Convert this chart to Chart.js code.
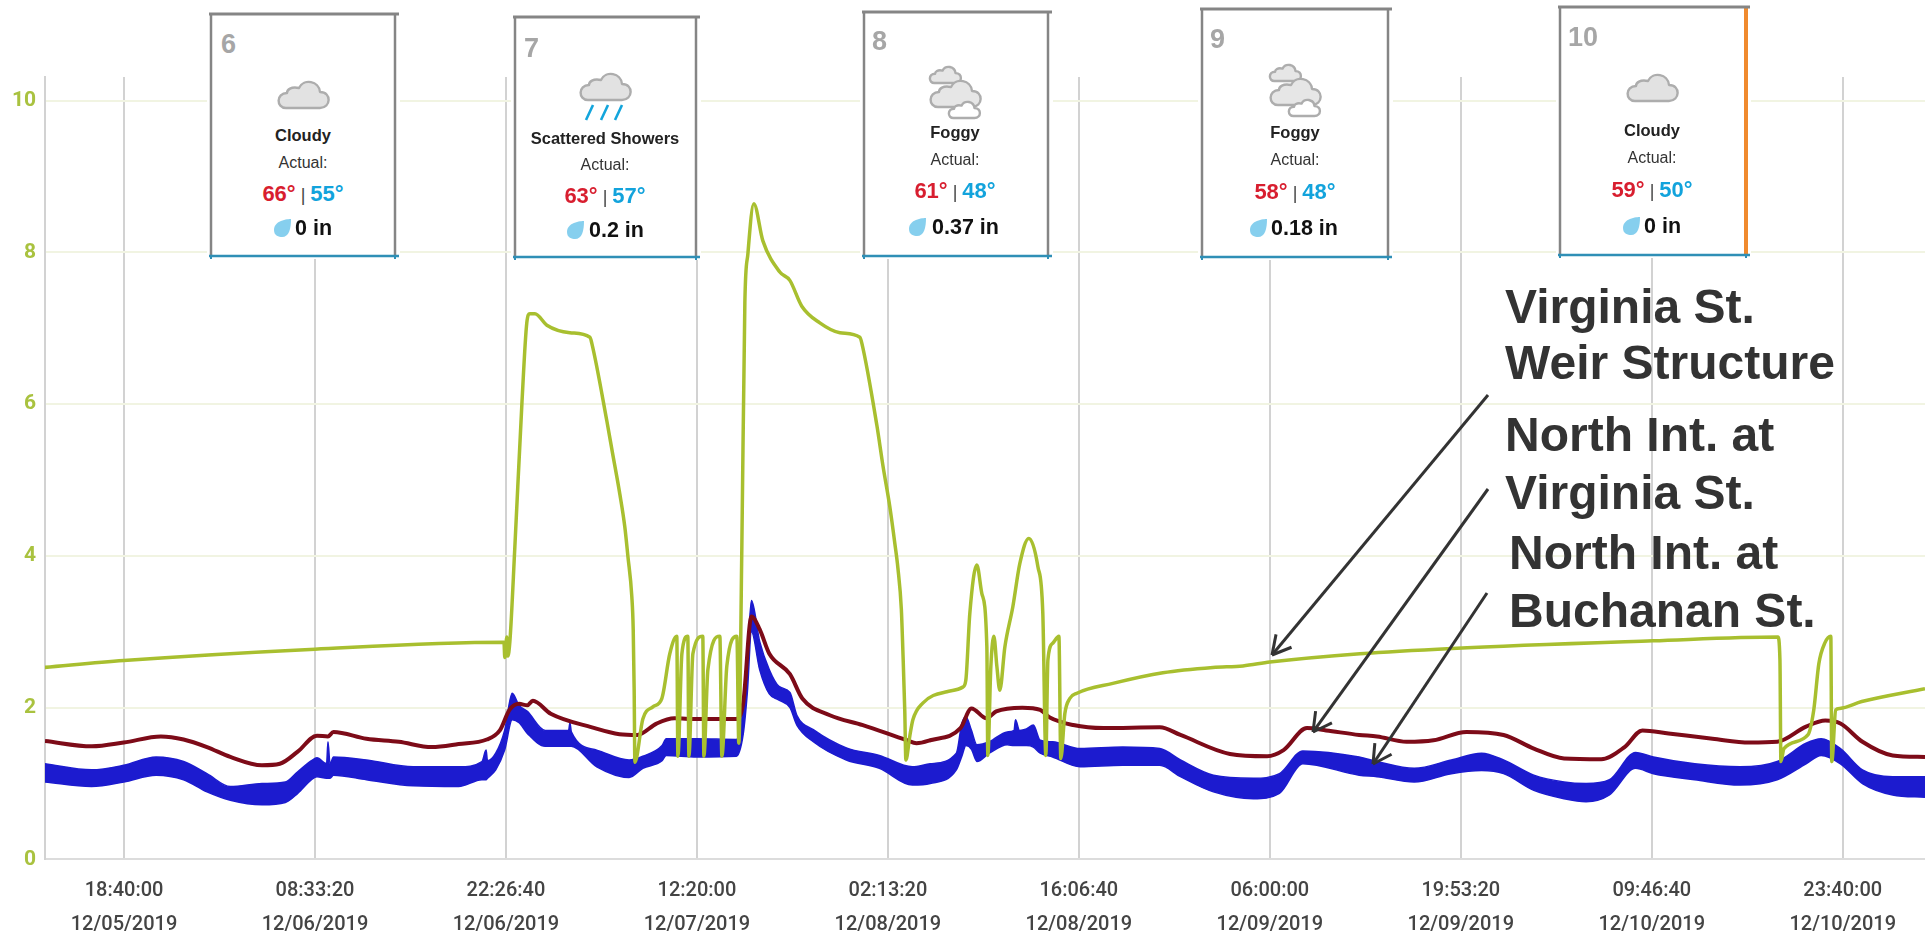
<!DOCTYPE html>
<html>
<head>
<meta charset="utf-8">
<style>
html,body{margin:0;padding:0;background:#fff;width:1925px;height:934px;overflow:hidden}
#wrap{position:relative;width:1925px;height:934px}
#c{position:absolute;left:0;top:0}
#ov{position:absolute;left:0;top:0}
#ov text{font-family:"Liberation Sans",Arial,sans-serif}
</style>
<script src="https://cdn.jsdelivr.net/npm/chart.js@4/dist/chart.umd.min.js"></script>
</head>
<body>
<div id="wrap"><canvas id="c" width="1925" height="934"></canvas><svg id="ov" width="1925" height="934" xmlns="http://www.w3.org/2000/svg"></svg></div>
<script>
// ---- axis labels (x positions are hours since 12/05/2019 00:00) ----
const tickHours = [18.667,32.556,46.444,60.333,74.222,88.111,102,115.889,129.778,143.667];
const tickTimes = ["18:40:00","08:33:20","22:26:40","12:20:00","02:13:20","16:06:40","06:00:00","19:53:20","09:46:40","23:40:00"];
const tickDates = ["12/05/2019","12/06/2019","12/06/2019","12/07/2019","12/08/2019","12/08/2019","12/09/2019","12/09/2019","12/10/2019","12/10/2019"];
const yTicks = [0,2,4,6,8,10];

// ---- Virginia St. Weir Structure ----
const weirHours = [12.9,18.65,32.55,46.3,46.36,46.51,46.58,46.73,47.09,47.6,47.96,48.18,48.55,49.42,51.09,52.55,52.69,53.78,54.2,54.73,55.09,55.31,55.6,55.7,55.77,55.82,56.4,57.13,57.78,58.36,58.87,58.95,59.24,59.67,59.75,60.04,60.76,60.84,61.13,62,62.15,62.51,63.24,63.38,63.6,63.82,64.04,64.47,65.13,66.36,67.09,67.96,69.27,70.73,72.18,72.33,73.42,73.86,74.36,74.73,74.95,75.2,75.31,75.45,75.53,75.82,76.04,76.76,78.51,79.67,79.89,80.18,80.69,81.06,81.42,81.49,81.71,81.93,82.15,82.36,82.73,83.31,83.82,84.47,85.13,85.49,85.71,85.86,86.22,86.66,86.8,87.09,87.45,87.97,90.58,94.22,97.86,100.04,102,108.55,115.24,129.86,138.95,139.1,139.17,139.39,141.13,141.56,141.93,142.36,142.8,142.87,143.16,143.45,145.05,149.65];
const weirLevel = [2.53,2.62,2.77,2.86,2.66,2.93,2.68,2.87,4.11,5.99,7.07,7.19,7.19,7.04,6.94,6.88,6.8,5.78,5.35,4.81,4.38,4,3.46,3.03,2.23,1.28,1.85,2.01,2.12,2.71,2.94,1.36,2.71,2.94,1.36,2.71,2.94,1.36,2.5,2.94,1.36,2.55,2.94,1.53,4.11,7.34,7.98,8.64,8.15,7.74,7.63,7.29,7.07,6.94,6.88,6.8,5.72,5.19,4.65,4.16,3.84,3.3,2.76,1.96,1.31,1.63,1.84,2.06,2.21,2.27,2.36,3.24,3.88,3.5,2.8,1.37,2.54,2.94,2.54,2.23,2.8,3.33,3.9,4.23,3.86,3.24,1.37,2.63,2.85,2.94,1.33,1.92,2.12,2.19,2.32,2.46,2.53,2.55,2.6,2.71,2.78,2.88,2.93,2.63,1.29,1.46,1.64,1.97,2.58,2.85,2.94,1.29,1.97,1.99,2.08,2.25];

// ---- North Int. at Virginia St. ----
const virginiaHours = [12.92,16.33,18.65,21.35,23,24.7,26.4,28.7,30,31.3,32.7,33.5,33.9,36.3,38.65,41.05,43,45.05,46,46.7,47.4,48,48.4,49.7,52.7,54.7,56,57.4,58.7,60.3,63.2,63.7,64.3,64.9,65.6,67.1,68,70,72.4,75.6,76.3,77.3,79.5,80.3,81.4,82.1,84,85.3,86,87.7,89.9,94,95.5,99.1,101.8,103,104.7,106.1,108.5,109.8,111.95,113.9,116.3,119,121.2,123.4,126.1,127.8,129.1,131,134.2,136.9,138.9,141,142.4,143.5,145.1,147.3,149.65];
const virginiaLevel = [1.56,1.49,1.54,1.62,1.58,1.48,1.35,1.24,1.26,1.42,1.63,1.62,1.68,1.59,1.55,1.48,1.52,1.58,1.7,1.97,2.05,2.03,2.09,1.92,1.74,1.65,1.64,1.79,1.86,1.85,1.85,2.06,3.2,3.03,2.71,2.44,2.12,1.9,1.77,1.57,1.53,1.57,1.73,1.99,1.86,1.95,2,1.97,1.87,1.77,1.73,1.74,1.64,1.39,1.36,1.44,1.73,1.7,1.64,1.62,1.55,1.57,1.68,1.64,1.46,1.33,1.32,1.48,1.7,1.66,1.59,1.54,1.55,1.75,1.83,1.79,1.55,1.37,1.35];

// ---- North Int. at Buchanan St. (the signal cycles quickly: upper and lower edge of its band) ----
const buchananHours = [12.92,16.3,18.65,21,23,24.7,26.4,28.7,30.4,31.3,32.3,32.7,33.4,33.5,33.65,33.9,36.3,39.7,43,44.7,45,45.1,45.7,46.35,46.9,47.4,48,49.3,51,51.1,51.2,53.05,55.4,56.4,57.8,58.1,60.3,63.2,63.7,64,64.3,64.9,65.6,66.3,67.1,67.6,68.8,71.2,73.6,76,77.3,79.2,79.6,79.9,80.3,80.7,81.6,82.9,83.4,83.5,83.8,84.3,84.8,85.3,86.2,88.2,91.3,94,95.5,97.9,100.8,102.7,104.4,108.5,109.8,112.5,115.2,117.4,119,121.2,123.4,125,126.7,128.6,129.9,132.9,136.2,138.9,141,142.1,143.5,145.1,147.3,149.65];
const buchananHigh = [1.26,1.18,1.24,1.35,1.29,1.13,0.96,1,1.02,1.155,1.3,1.34,1.26,1.55,1.26,1.35,1.31,1.22,1.22,1.29,1.44,1.3,1.4,1.7,2.19,2.03,1.95,1.7,1.7,1.8,1.68,1.44,1.31,1.36,1.5,1.59,1.59,1.58,2,2.65,3.41,2.87,2.5,2.28,2.2,1.9,1.71,1.47,1.37,1.22,1.26,1.4,1.79,1.88,1.7,1.51,1.55,1.68,1.7,1.84,1.7,1.72,1.77,1.57,1.55,1.46,1.48,1.46,1.31,1.11,1.07,1.13,1.43,1.35,1.29,1.2,1.31,1.4,1.31,1.11,1.02,1,1.05,1.41,1.35,1.26,1.22,1.29,1.53,1.59,1.46,1.18,1.09,1.09];
const buchananLow = [1.02,0.96,1.02,1.11,1.05,0.89,0.78,0.72,0.75,0.87,1.05,1.09,1.07,1.07,1.07,1.11,1.05,0.97,0.96,1.05,1.05,1.07,1.18,1.44,1.84,1.8,1.66,1.49,1.49,1.49,1.49,1.22,1.08,1.2,1.3,1.37,1.35,1.36,1.65,2.2,3,2.5,2.18,2.1,2,1.77,1.55,1.31,1.2,0.98,1,1.18,1.36,1.5,1.45,1.29,1.4,1.51,1.5,1.5,1.5,1.5,1.48,1.4,1.35,1.22,1.24,1.24,1.09,0.89,0.8,0.87,1.26,1.11,1.09,1.02,1.13,1.17,1.13,0.91,0.8,0.76,0.85,1.2,1.13,1.05,0.98,1.05,1.26,1.37,1.26,1,0.85,0.82];

// ---- daily weather cards ----
const cardDays = ["6","7","8","9","10"];
const cardSkies = ["Cloudy","Scattered Showers","Foggy","Foggy","Cloudy"];
const cardHighs = ["66°","63°","61°","58°","59°"];
const cardLows = ["55°","57°","48°","48°","50°"];
const cardRain = ["0 in","0.2 in","0.37 in","0.18 in","0 in"];
const cardIcons = ["cloud","rain","fog","fog","cloud"];

// ---- layout of the overlay (pixels) ----
const cardBoxes = [
 {l:211,r:395,t:14,b:256,cx:303,nx:221,nb:53,ic:95,tb:141,ab:168,hb:201,rb:235,dx:282,rx:295},
 {l:515,r:696,t:17,b:257,cx:605,nx:524,nb:57,ic:87,tb:144,ab:170,hb:203,rb:237,dx:575,rx:589},
 {l:864,r:1048,t:12,b:256,cx:955,nx:872,nb:50,ic:92,tb:138,ab:165,hb:198,rb:234,dx:917,rx:932},
 {l:1202,r:1388,t:9,b:257,cx:1295,nx:1210,nb:48,ic:90,tb:138,ab:165,hb:199,rb:235,dx:1258,rx:1271},
 {l:1560,r:1746,t:7,b:255,cx:1652,nx:1568,nb:46,ic:88,tb:136,ab:163,hb:197,rb:233,dx:1631,rx:1644}
];
const noteLines = [
 ["Virginia St.",1505,323],["Weir Structure",1505,379],
 ["North Int. at",1505,451],["Virginia St.",1505,509],
 ["North Int. at",1509,569],["Buchanan St.",1509,627]
];
const noteArrows = [[1488,395,1272,655],[1488,489,1313,732],[1487,593,1373,764]];

const GREEN="#a8bf2f", MAROON="#7d0b18", BLUE="#1c1bcf";
const toPts=(xs,ys)=>xs.map((x,i)=>({x:x,y:ys[i]}));
Chart.defaults.animation=false;
const smooth={showLine:true,pointRadius:0,cubicInterpolationMode:'monotone'};
new Chart(document.getElementById('c'),{
 type:'scatter',
 data:{datasets:[
  {...smooth,label:'Virginia St. Weir Structure',data:toPts(weirHours,weirLevel),borderColor:GREEN,borderWidth:3.5,order:1},
  {...smooth,label:'North Int. at Virginia St.',data:toPts(virginiaHours,virginiaLevel),borderColor:MAROON,borderWidth:4,order:2},
  {...smooth,label:'North Int. at Buchanan St. high',data:toPts(buchananHours,buchananHigh),borderColor:BLUE,backgroundColor:BLUE,borderWidth:1.5,fill:'+1',order:3},
  {...smooth,label:'North Int. at Buchanan St. low',data:toPts(buchananHours,buchananLow),borderColor:BLUE,borderWidth:1.5,order:4}
 ]},
 options:{
  responsive:false,
  layout:{padding:{top:77,right:0,left:0,bottom:0}},
  plugins:{legend:{display:false},tooltip:{enabled:false}},
  scales:{
   x:{type:'linear',min:12.92,max:149.65,
    afterBuildTicks:s=>{s.ticks=tickHours.map(v=>({value:v}));},
    afterFit:s=>{s.height=74.6;},
    grid:{color:'#d2d2d2',lineWidth:2,drawTicks:false},
    border:{color:'#dcdcdc',width:2},
    ticks:{autoSkip:false,maxRotation:0,minRotation:0,padding:15,color:'#444',
     font:{family:'Roboto',size:20,weight:'500',lineHeight:1.7},
     callback:function(v,i){return [tickTimes[i],tickDates[i]];}}
   },
   y:{type:'linear',min:0,max:10.31,
    afterBuildTicks:s=>{s.ticks=yTicks.map(v=>({value:v}));},
    afterFit:s=>{s.width=45;},
    grid:{color:'#f1f4e2',lineWidth:2,drawTicks:false},
    border:{color:'#d2d2d2',width:2},
    ticks:{padding:9,color:'#a9c23f',font:{family:'Roboto',size:21,weight:'700'},callback:v=>String(v)}
   }
  }
 }
});

// ---- overlay: cards and notes ----
const NS="http://www.w3.org/2000/svg", ov=document.getElementById('ov');
function el(name,attrs,parent,txt){const e=document.createElementNS(NS,name);for(const k in attrs)e.setAttribute(k,attrs[k]);if(txt!==undefined)e.textContent=txt;(parent||ov).appendChild(e);return e;}
const CLOUD="M-17 13 L17 13 C28 13 29 -3 17 -3 C16 -14 1 -17 -4 -7 C-12 -9 -16 -5 -16 -2 C-27 -2 -27 13 -17 13 Z";
function cloud(x,y,s,fill){el('path',{d:CLOUD,transform:`translate(${x} ${y}) scale(${s})`,fill:fill,stroke:'#adadad','stroke-width':2.4/s,'stroke-linejoin':'round'});}
cardBoxes.forEach((b,i)=>{
 el('rect',{x:b.l-4,y:b.t-3,width:b.r-b.l+9,height:b.b-b.t+6,fill:'#fff'});
 el('line',{x1:b.l,y1:b.t,x2:b.l,y2:b.b,stroke:'#858585','stroke-width':2.5});
 el('line',{x1:b.r,y1:b.t,x2:b.r,y2:b.b,stroke:i===4?'#f08a2e':'#858585','stroke-width':i===4?4:2.5});
 el('line',{x1:b.l-2,y1:b.t,x2:b.r+4,y2:b.t,stroke:'#858585','stroke-width':3});
 el('line',{x1:b.l-2,y1:b.b,x2:b.r+4,y2:b.b,stroke:'#2f8fb6','stroke-width':2.5});
 el('line',{x1:b.l,y1:b.b,x2:b.l,y2:b.b+3,stroke:'#2f8fb6','stroke-width':2});
 el('line',{x1:b.r,y1:b.b,x2:b.r,y2:b.b+3,stroke:'#2f8fb6','stroke-width':2});
 el('text',{x:b.nx,y:b.nb,'font-size':27,'font-weight':700,fill:'#a6a6a6'},null,cardDays[i]);
 const k=cardIcons[i];
 if(k==='fog'){cloud(b.cx-10,b.ic-17,.62,'#e6e6e6');cloud(b.cx,b.ic+2,1,'#e6e6e6');cloud(b.cx+9,b.ic+18,.62,'#fff');}
 else{cloud(b.cx,b.ic,1,'#e2e2e2');}
 if(k==='rain'){[-16,-1,13].forEach(dx=>el('line',{x1:b.cx+dx+4,y1:105,x2:b.cx+dx-3,y2:120,stroke:'#13a5dc','stroke-width':2.6}));}
 el('text',{x:b.cx,y:b.tb,'text-anchor':'middle','font-size':16.5,'font-weight':700,fill:'#222'},null,cardSkies[i]);
 el('text',{x:b.cx,y:b.ab,'text-anchor':'middle','font-size':16,fill:'#333'},null,'Actual:');
 const t=el('text',{x:b.cx,y:b.hb,'text-anchor':'middle','font-size':22,'font-weight':700},null);
 el('tspan',{fill:'#d81e2f'},t,cardHighs[i]);
 el('tspan',{fill:'#444','font-weight':400,'font-size':18},t,' | ');
 el('tspan',{fill:'#12a3dc'},t,cardLows[i]);
 el('path',{d:"M9 -9 C9 -9 -8 -9 -8 2 C-8 8 -3 9 0 9 C7 9 9 1 9 -9 Z",transform:`translate(${b.dx} ${b.rb-7})`,fill:'#86cfee'});
 el('text',{x:b.rx,y:b.rb,'font-size':21.5,'font-weight':700,fill:'#111'},null,cardRain[i]);
});
noteLines.forEach(n=>el('text',{x:n[1],y:n[2],'font-size':48,'font-weight':700,fill:'#333'},null,n[0]));
noteArrows.forEach(a=>{
 const ang=Math.atan2(a[1]-a[3],a[0]-a[2]);
 el('line',{x1:a[0],y1:a[1],x2:a[2],y2:a[3],stroke:'#333','stroke-width':3});
 [-0.5,0.5].forEach(d=>el('line',{x1:a[2],y1:a[3],x2:a[2]+21*Math.cos(ang+d),y2:a[3]+21*Math.sin(ang+d),stroke:'#333','stroke-width':3}));
});
</script>
</body>
</html>
